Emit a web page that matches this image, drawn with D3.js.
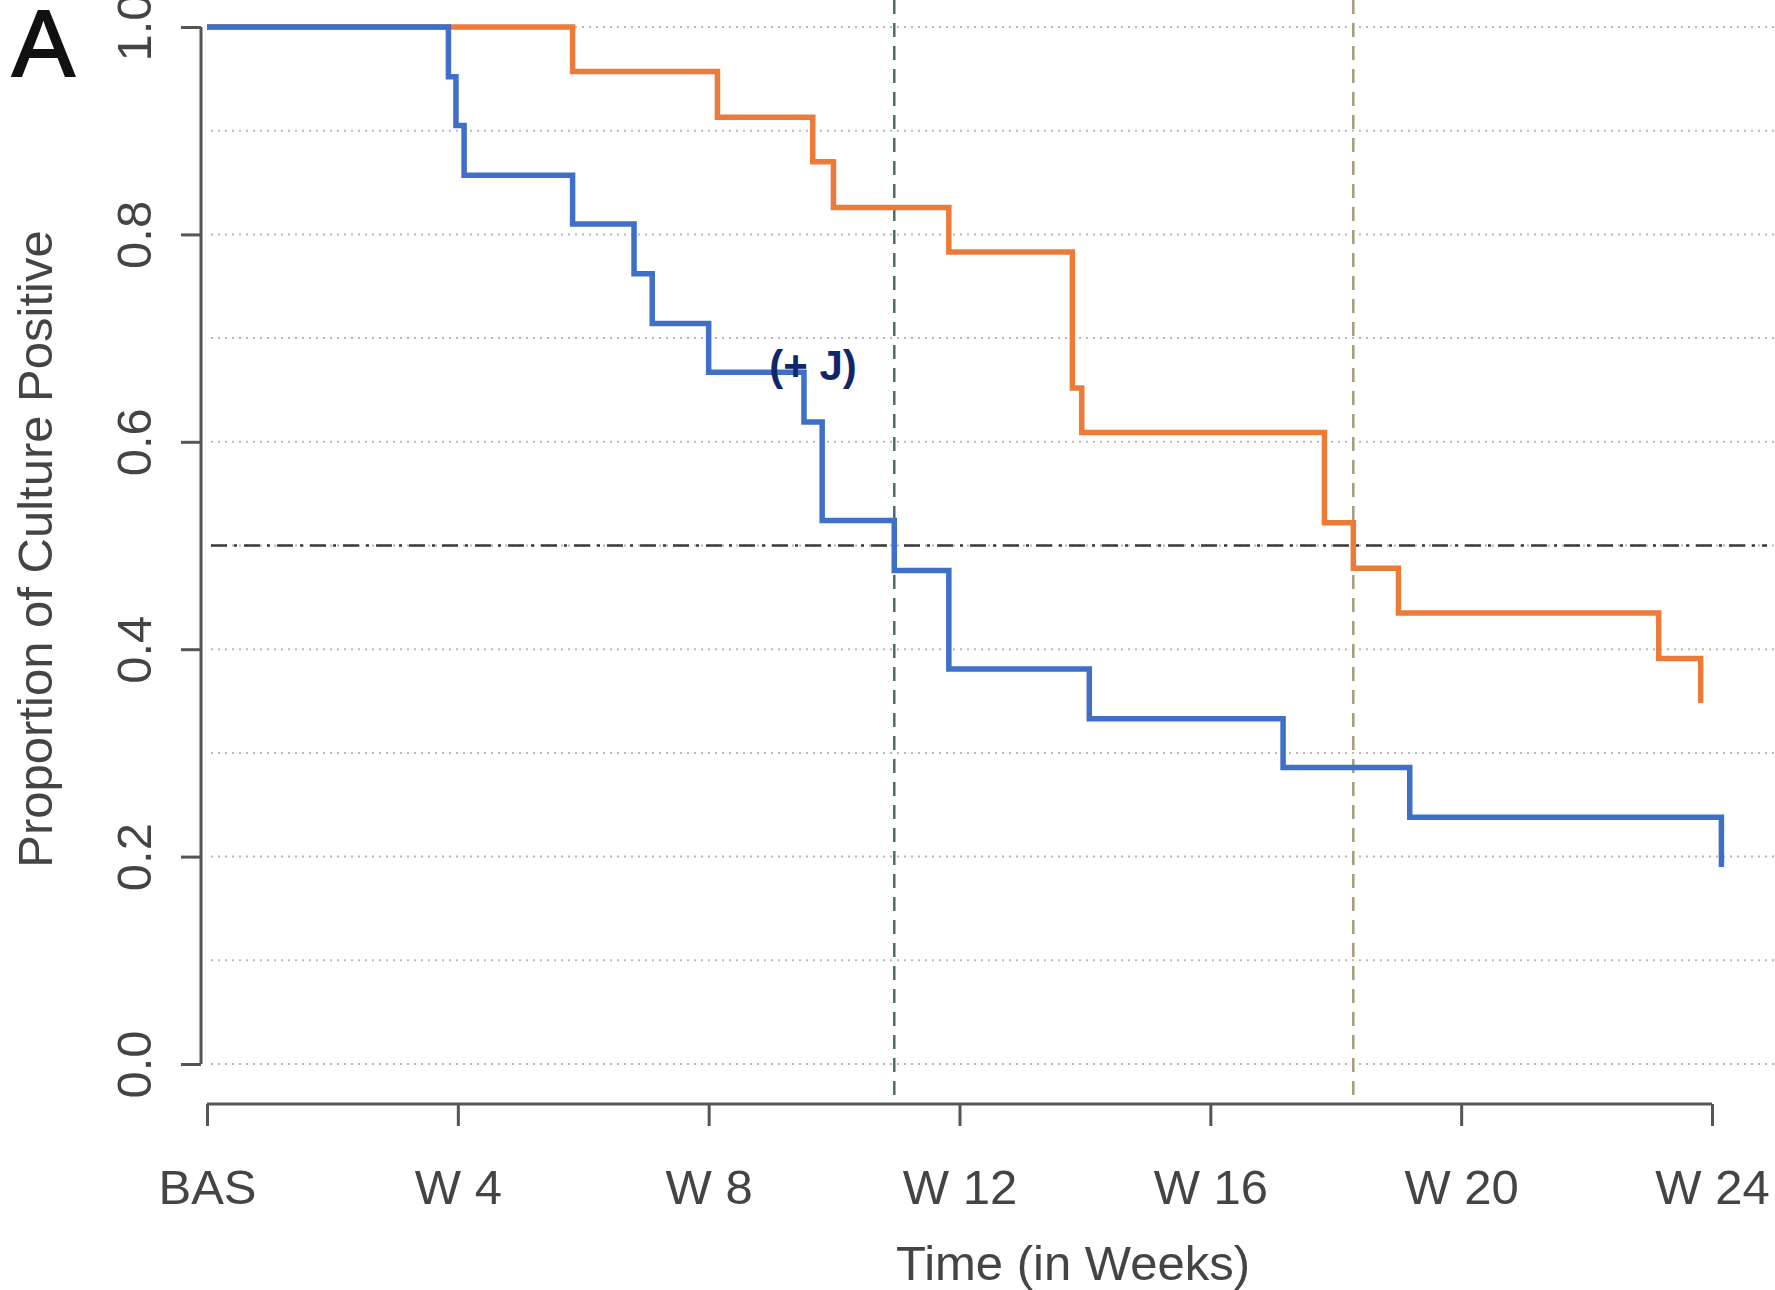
<!DOCTYPE html>
<meta charset='utf-8'>
<style>
    body { margin: 0; background: #fff; }
    text { font-family: 'Liberation Sans', Arial, sans-serif; }
</style>
<body>
    <script src='https://cdn.jsdelivr.net/npm/d3@7'></script>
    <script>
        var width = 1775,
            height = 1290;

        // week labels on the x axis
        var weekTicks = [0, 4, 8, 12, 16, 20, 24];
        var weekLabels = ['BAS', 'W 4', 'W 8', 'W 12', 'W 16', 'W 20', 'W 24'];
        var yTicks = [0, 0.2, 0.4, 0.6, 0.8, 1.0];
        var gridLevels = [0, 0.1, 0.2, 0.3, 0.4, 0.5, 0.6, 0.7, 0.8, 0.9, 1.0];

        // blue group (n = 21)
        var blueTimes = [0, 3.85, 3.97, 4.10, 5.83, 6.81, 7.10, 8.00, 9.52, 9.81, 10.96, 11.83, 14.07, 17.16, 19.18, 24.15];
        var blueSurv  = [1, 0.952, 0.905, 0.857, 0.810, 0.762, 0.714, 0.667, 0.619, 0.524, 0.476, 0.381, 0.333, 0.286, 0.238, 0.190];

        // orange group (n = 23)
        var orangeTimes = [0, 5.83, 8.14, 9.66, 9.99, 11.83, 13.80, 13.95, 17.82, 18.28, 19.00, 23.15, 23.82];
        var orangeSurv  = [1, 0.957, 0.913, 0.870, 0.826, 0.783, 0.652, 0.609, 0.522, 0.478, 0.435, 0.391, 0.348];

        // median times
        var medianBlue = 10.96,
            medianOrange = 18.28;

        var svg = d3.select('body').append('svg')
            .attr('width', width)
            .attr('height', height);

        var x = d3.scaleLinear().domain([0, 24]).range([207, 1712]);
        var y = d3.scaleLinear().domain([0, 1]).range([1064, 27]);

        // dotted grid
        svg.selectAll('.grid').data(gridLevels).enter().append('line')
            .attr('x1', x(0) + 4).attr('x2', width)
            .attr('y1', function(d) { return y(d); })
            .attr('y2', function(d) { return y(d); })
            .attr('stroke', '#b8b8b8')
            .attr('stroke-width', 2)
            .attr('stroke-dasharray', '2,5');

        // median reference lines
        svg.append('line')
            .attr('x1', x(0) + 4).attr('x2', width - 8)
            .attr('y1', y(0.5)).attr('y2', y(0.5))
            .attr('stroke', '#3a3a3a').attr('stroke-width', 2.5)
            .attr('stroke-dasharray', '16,7,3,7');

        svg.append('line')
            .attr('x1', x(medianBlue)).attr('x2', x(medianBlue))
            .attr('y1', 0).attr('y2', 1104)
            .attr('stroke', '#4f6b6b').attr('stroke-width', 2.5)
            .attr('stroke-dasharray', '14,9');

        svg.append('line')
            .attr('x1', x(medianOrange)).attr('x2', x(medianOrange))
            .attr('y1', 0).attr('y2', 1104)
            .attr('stroke', '#a59c78').attr('stroke-width', 2.5)
            .attr('stroke-dasharray', '14,9');

        // survival curves
        var line = d3.line()
            .x(function(d) { return x(d[0]); })
            .y(function(d) { return y(d[1]); })
            .curve(d3.curveStepAfter);

        svg.append('path')
            .attr('d', line(d3.zip(orangeTimes, orangeSurv)))
            .attr('fill', 'none')
            .attr('stroke', '#ec7b3a')
            .attr('stroke-width', 5.5);

        svg.append('path')
            .attr('d', line(d3.zip(blueTimes, blueSurv)))
            .attr('fill', 'none')
            .attr('stroke', '#3d70c6')
            .attr('stroke-width', 5.5);

        // y axis
        var yAxis = svg.append('g')
            .attr('transform', 'translate(201,0)')
            .call(d3.axisLeft(y).tickValues(yTicks).tickSize(20).tickFormat(d3.format('.1f')));
        yAxis.select('.domain').attr('stroke', '#555').attr('stroke-width', 3)
            .attr('d', 'M0,' + y(1) + 'V' + y(0));
        yAxis.selectAll('.tick line').attr('stroke', '#555').attr('stroke-width', 3);
        yAxis.selectAll('.tick text')
            .attr('font-size', 49)
            .attr('fill', '#444')
            .attr('x', null).attr('dy', null)
            .attr('text-anchor', 'middle')
            .attr('transform', 'translate(-67,0) rotate(-90)')
            .attr('y', 0)
            .attr('dominant-baseline', 'central');

        // x axis
        var xAxis = svg.append('g')
            .attr('transform', 'translate(0,1104)')
            .call(d3.axisBottom(x).tickValues(weekTicks).tickSize(22)
                .tickFormat(function(d, i) { return weekLabels[i]; }));
        xAxis.select('.domain').attr('stroke', '#555').attr('stroke-width', 3)
            .attr('d', 'M' + x(0) + ',0H' + x(24));
        xAxis.selectAll('.tick line').attr('stroke', '#555').attr('stroke-width', 3);
        xAxis.selectAll('.tick text')
            .attr('font-size', 49)
            .attr('fill', '#444')
            .attr('y', 100).attr('dy', null);

        // axis titles
        svg.append('text')
            .attr('x', 1073).attr('y', 1280)
            .attr('text-anchor', 'middle')
            .attr('font-size', 49)
            .attr('fill', '#444')
            .text('Time (in Weeks)');

        svg.append('text')
            .attr('transform', 'translate(52,549) rotate(-90)')
            .attr('text-anchor', 'middle')
            .attr('font-size', 49)
            .attr('fill', '#444')
            .text('Proportion of Culture Positive');

        // panel letter
        svg.append('text')
            .attr('x', 12).attr('y', 76)
            .attr('font-size', 94)
            .attr('stroke', '#111')
            .attr('stroke-width', 2)
            .attr('fill', '#111')
            .text('A');

        // annotation
        svg.append('text')
            .attr('x', 813).attr('y', 380)
            .attr('text-anchor', 'middle')
            .attr('font-family', "'Open Sans', sans-serif")
            .attr('font-weight', 'bold')
            .attr('font-size', 42)
            .attr('fill', '#10286a')
            .text('(+ J)');
    </script>
</body>
